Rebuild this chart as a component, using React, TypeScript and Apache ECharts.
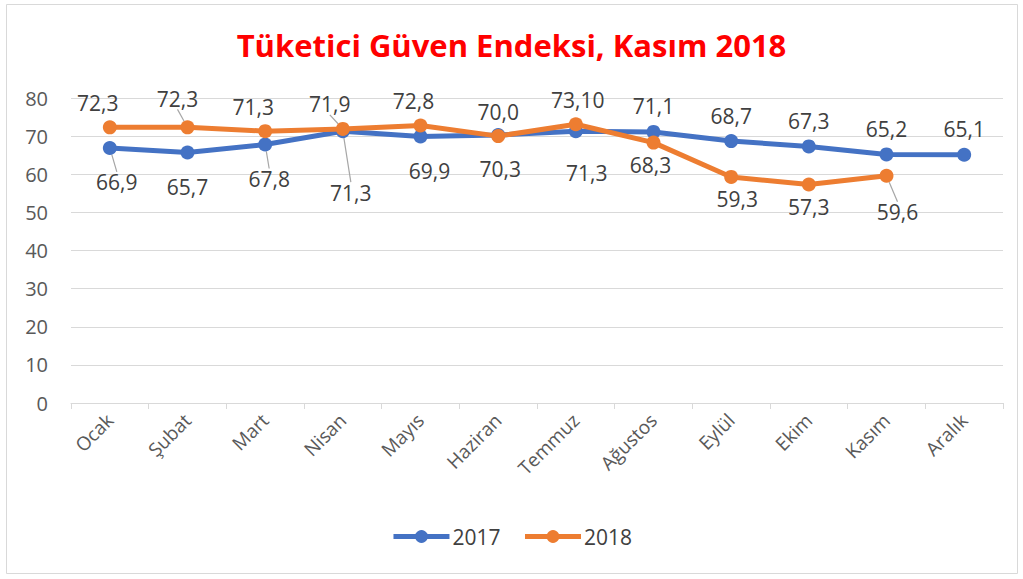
import React, { useEffect, useRef } from "react";
import * as echarts from "echarts";

const months = ["Ocak", "Şubat", "Mart", "Nisan", "Mayıs", "Haziran", "Temmuz", "Ağustos", "Eylül", "Ekim", "Kasım", "Aralık"];
const values2017 = [66.9, 65.7, 67.8, 71.3, 69.9, 70.3, 71.3, 71.1, 68.7, 67.3, 65.2, 65.1];
const labels2017 = ["66,9", "65,7", "67,8", "71,3", "69,9", "70,3", "71,3", "71,1", "68,7", "67,3", "65,2", "65,1"];
const values2018 = [72.3, 72.3, 71.3, 71.9, 72.8, 70.0, 73.1, 68.3, 59.3, 57.3, 59.6];
const labels2018 = ["72,3", "72,3", "71,3", "71,9", "72,8", "70,0", "73,10", "68,3", "59,3", "57,3", "59,6"];
const yTicks = [0, 10, 20, 30, 40, 50, 60, 70, 80];

const FONT = "'Open Sans', sans-serif";

export default function App() {
  const ref = useRef<HTMLDivElement>(null);
  useEffect(() => {
    if (!ref.current) return;
    const chart = echarts.init(ref.current, undefined, { renderer: "svg" });
    const blue = "#4472C4";
    const orange = "#ED7D31";
    // label nudges (Excel manual label placement)
    const dist2017 = [4, 17, 4, 18, 17, 17, 24, 8, 8, 8, 8, 8];
    const dx2017 = [7, 0, 4, 8, 9, 2, 11, 0, 0, 0, 0, 0];
    const dy2017 = [13, 0, 13, 26, 0, 0, 0, 0, 0, 0, 0, 0];
    const dist2018 = [7, 2, 7, 0, 7, 7, 7, 5, 5, 5, 5];
    const dx2018 = [-12, -10, -12, -13, -7, 0, 2, -3, 6, 0, 11];
    const dy2018 = [0, -9, 0, -7, 0, 0, 0, 0, 0, 0, 14];
    const leader2017 = [0, 2, 3];
    const leader2018 = [1, 3, 10];
    const lbl = { color: "#404040", fontSize: 21, fontFamily: FONT };
    const leaderStyle = { show: true, length2: 0, lineStyle: { color: "#a6a6a6", width: 1.2 } };
    const data2017 = values2017.map((v, i) => ({
      value: v,
      label: { position: i <= 6 ? "bottom" : "top", distance: dist2017[i] },
      labelLine: leader2017.includes(i) ? leaderStyle : { show: false },
    }));
    const data2018 = values2018.map((v, i) => ({
      value: v,
      label: { position: i <= 6 ? "top" : "bottom", distance: dist2018[i] },
      labelLine: leader2018.includes(i) ? leaderStyle : { show: false },
    }));
    chart.setOption({
      animation: false,
      title: {
        text: "Tüketici Güven Endeksi, Kasım 2018",
        left: "center",
        top: 24,
        textStyle: { color: "#FF0000", fontSize: 31, fontWeight: "bold", fontFamily: FONT },
      },
      graphic: [
        { type: "rect", shape: { x: 6.5, y: 4.5, width: 1011, height: 569 }, style: { fill: "none", stroke: "#d9d9d9", lineWidth: 1 }, silent: true },
      ],
      legend: {
        top: 521,
        left: "center",
        itemWidth: 56,
        itemHeight: 16,
        itemGap: 22,
        lineStyle: { width: 5 },
        textStyle: { color: "#404040", fontSize: 21, fontFamily: FONT, padding: [0, 0, 0, -2] },
        data: ["2017", "2018"],
      },
      grid: { left: 71, right: 20, top: 98, bottom: 176 },
      xAxis: {
        type: "category",
        data: months,
        boundaryGap: true,
        axisLine: { lineStyle: { color: "#d9d9d9", width: 1 } },
        axisTick: { show: true, length: 6, lineStyle: { color: "#d9d9d9" } },
        axisLabel: { rotate: 45, color: "#595959", fontSize: 19, fontFamily: FONT, margin: 14 },
      },
      yAxis: {
        type: "value",
        min: yTicks[0],
        max: yTicks[yTicks.length - 1],
        interval: 10,
        axisLine: { show: false },
        axisTick: { show: false },
        splitLine: { lineStyle: { color: "#d9d9d9", width: 1 } },
        axisLabel: { color: "#595959", fontSize: 20, fontFamily: FONT, margin: 23 },
      },
      series: [
        {
          name: "2017",
          type: "line",
          data: data2017,
          color: blue,
          lineStyle: { width: 5, color: blue },
          symbol: "circle",
          symbolSize: 14,
          itemStyle: { color: blue },
          label: { show: true, formatter: (p: any) => labels2017[p.dataIndex], ...lbl },
          labelLayout: (p: any) => ({ dx: dx2017[p.dataIndex] || 0, dy: dy2017[p.dataIndex] || 0 }),
          z: 2,
        },
        {
          name: "2018",
          type: "line",
          data: data2018,
          color: orange,
          lineStyle: { width: 5, color: orange },
          symbol: "circle",
          symbolSize: 14,
          itemStyle: { color: orange },
          label: { show: true, formatter: (p: any) => labels2018[p.dataIndex], ...lbl },
          labelLayout: (p: any) => ({ dx: dx2018[p.dataIndex] || 0, dy: dy2018[p.dataIndex] || 0 }),
          z: 3,
        },
      ],
    });
    return () => chart.dispose();
  }, []);
  return <div ref={ref} style={{ position: "fixed", left: 0, top: 0, width: 1023, height: 579, background: "#fff" }} />;
}
